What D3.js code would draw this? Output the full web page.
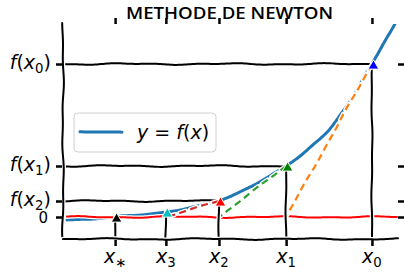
<!DOCTYPE html>
<html><head><meta charset="utf-8">
<script src="https://cdn.jsdelivr.net/npm/d3@7"></script>
<style>
body{margin:0;background:#fff;}
svg{display:block;}
</style></head><body>
<svg id="c" width="404" height="278"></svg>
<script>
// ---------------- data ----------------
const title = "METHODE DE NEWTON";
const curveX = [0.12, 0.81, 1.56, 2.31, 3.08, 3.80, 4.67, 5.60, 6.11, 6.68, 7.40, 7.90, 8.38, 8.80, 9.25, 9.64, 9.95];
const curveY = [-0.25, -0.2, 0.0, 0.2, 0.5, 0.95, 1.6, 3.0, 4.0, 5.1, 6.9, 8.5, 10.6, 12.7, 15.3, 17.6, 19.5];
const iterX = [9.25, 6.68, 4.67, 3.08, 1.56];   // x0, x1, x2, x3, x*
const iterY = [15.3, 5.1, 1.6, 0.5, 0.0];       // f(x0) ... f(x*)
const xTickSubs = ["0", "1", "2", "3", "*"];
const yTickValues = [15.3, 5.1, 1.6, 0.0];
const yTickSubs = ["0", "1", "2", null];
const zeroLineX = [0.12, 10.0];

// ---------------- styles ----------------
const markerColors = ["#0000ff", "#008000", "#ff0000", "#00bfbf", "#000000"];
const tangentColors = ["#ff7f0e", "#2ca02c", "#d62728"];
const C0 = "#1f77b4";

const svg = d3.select("#c");
const L = 63, R = 397, T = 24, B = 239;
const x = d3.scaleLinear().domain([0, 10]).range([L, R]);
const y = d3.scaleLinear().domain([-2.2, 19.3]).range([B, T]);

svg.append("defs").append("clipPath").attr("id", "clip")
  .append("rect").attr("x", L - 2).attr("y", T).attr("width", R - L + 6).attr("height", B - T);

// hand-drawn wobble (style only)
const tmp = svg.append("path").attr("fill", "none").attr("stroke", "none");
function sketch(pts, amp, seed, curve) {
  const gen = d3.line().curve(curve || d3.curveLinear);
  tmp.attr("d", gen(pts));
  const node = tmp.node();
  const len = node.getTotalLength();
  const n = Math.max(2, Math.ceil(len / 2));
  const raw = [];
  for (let i = 0; i <= n; i++) {
    const p = node.getPointAtLength(len * i / n);
    raw.push([p.x, p.y, len * i / n]);
  }
  const out = [];
  for (let i = 0; i <= n; i++) {
    const a = raw[Math.max(0, i - 1)], b = raw[Math.min(n, i + 1)];
    let dx = b[0] - a[0], dy = b[1] - a[1];
    const dl = Math.hypot(dx, dy) || 1;
    const nx = -dy / dl, ny = dx / dl;
    const s = raw[i][2];
    const d = amp * (0.6 * Math.sin(s / 16 + seed) + 0.4 * Math.sin(s / 6.7 + seed * 2.3));
    out.push([raw[i][0] + nx * d, raw[i][1] + ny * d]);
  }
  return d3.line()(out);
}
function drawLine(g, pts, color, width, opts = {}) {
  const d = sketch(pts, opts.amp ?? 0.8, opts.seed ?? 0, opts.curve);
  g.append("path").attr("d", d).attr("fill", "none").attr("stroke", "#fff")
    .attr("stroke-width", width + 2.5).attr("stroke-linecap", "round")
    .attr("stroke-dasharray", opts.dash || null);
  g.append("path").attr("d", d).attr("fill", "none").attr("stroke", color)
    .attr("stroke-width", width).attr("stroke-linecap", opts.dash ? "butt" : "round")
    .attr("stroke-dasharray", opts.dash || null);
}

const plot = svg.append("g").attr("clip-path", "url(#clip)");

// blue curve
drawLine(plot, curveX.map((v, i) => [x(v), y(curveY[i])]), C0, 3, { seed: 1.3, amp: 0.6, curve: d3.curveMonotoneX });
// zero line
drawLine(plot, zeroLineX.map(v => [x(v), y(0)]), "#ff0000", 2, { seed: 4.1, amp: 0.9 });

// iterations
for (let i = 0; i < iterX.length; i++) {
  const px = x(iterX[i]), py = y(iterY[i]);
  drawLine(svg, [[px, B], [px, py]], "#000", 2, { seed: 2 + i, amp: 0.6 });
  if (i < 3) drawLine(svg, [[L, py], [px, py]], "#000", 2, { seed: 7 + i, amp: 0.9 });
  if (i < 3) drawLine(svg, [[px, py], [x(iterX[i + 1]), y(0)]], tangentColors[i], 2.2,
    { seed: 11 + i, amp: 0.6, dash: "7,4.5" });
}
for (let i = 0; i < iterX.length; i++) {
  const px = x(iterX[i]), py = y(iterY[i]);
  svg.append("path").attr("d", d3.symbol(d3.symbolTriangle, 50)())
    .attr("transform", `translate(${px + 1.5},${py + 2})`)
    .attr("fill", markerColors[i]).attr("stroke", "#fff").attr("stroke-width", 1);
}

// spines
drawLine(svg, [[L, T - 1], [L, B]], "#000", 2, { seed: 20, amp: 0.9 });
drawLine(svg, [[L, B], [R + 1, B]], "#000", 2, { seed: 21, amp: 0.9 });

// axes (ticks)
const tickStyle = g => {
  g.select(".domain").remove();
  g.selectAll(".tick line").attr("stroke", "#000").attr("stroke-width", 2.5);
  g.selectAll(".tick text").remove();
};
svg.append("g").attr("transform", `translate(0,${B + 1})`)
  .call(d3.axisBottom(x).tickValues(iterX).tickSize(6).tickFormat("")).call(tickStyle);
svg.append("g").attr("transform", `translate(0,${T})`)
  .call(d3.axisTop(x).tickValues(iterX).tickSize(6).tickFormat("")).call(tickStyle);
svg.append("g").attr("transform", `translate(${L - 1},0)`)
  .call(d3.axisLeft(y).tickValues(yTickValues).tickSize(6).tickFormat("")).call(tickStyle);
svg.append("g").attr("transform", `translate(${R + 1},0)`)
  .call(d3.axisRight(y).tickValues(yTickValues).tickSize(6).tickFormat("")).call(tickStyle);

// math labels
const FS = 19;
function mathText(g, xx, yy, anchor, fs) {
  return g.append("text").attr("x", xx).attr("y", yy).attr("text-anchor", anchor)
    .attr("font-family", "DejaVu Sans").attr("font-size", fs).attr("fill", "#000");
}
// y labels
yTickValues.forEach((v, i) => {
  if (yTickSubs[i] === null) {
    mathText(svg, 48, y(v) + 6, "end", 15).text("0");
    return;
  }
  const t = mathText(svg, 51, y(v) + 5, "end", FS);
  t.append("tspan").attr("font-style", "italic").text("f");
  t.append("tspan").text("(");
  t.append("tspan").attr("font-style", "italic").text("x");
  t.append("tspan").attr("font-size", FS * 0.7).attr("dy", 4).text(yTickSubs[i]);
  t.append("tspan").attr("dy", -4).text(")");
});
// x labels
iterX.forEach((v, i) => {
  const t = mathText(svg, x(v), 263, "middle", FS);
  t.append("tspan").attr("font-style", "italic").text("x");
  t.append("tspan").attr("font-size", FS * 0.7).attr("dy", 4).text(xTickSubs[i] === "*" ? "\u2217" : xTickSubs[i]);
});

// title
svg.append("text").attr("x", 229.5).attr("y", 19).attr("text-anchor", "middle")
  .attr("font-family", "Open Sans").attr("font-weight", 600).attr("font-size", 17).attr("textLength", 207)
  .attr("lengthAdjust", "spacingAndGlyphs").text(title);

// legend
const lg = svg.append("g");
lg.append("rect").attr("x", 74).attr("y", 113).attr("width", 142).attr("height", 39).attr("rx", 4)
  .attr("fill", "#fff").attr("fill-opacity", 0.85).attr("stroke", "#d0d0d0").attr("stroke-width", 1);
drawLine(lg, [[80, 132], [122, 132]], C0, 3, { seed: 30, amp: 0.3 });
const lt = lg.append("text").attr("x", 137).attr("y", 139).attr("font-family", "DejaVu Sans").attr("font-size", FS);
lt.append("tspan").attr("font-style", "italic").text("y");
lt.append("tspan").text(" = ");
lt.append("tspan").attr("font-style", "italic").text("f");
lt.append("tspan").text("(");
lt.append("tspan").attr("font-style", "italic").text("x");
lt.append("tspan").text(")");
tmp.remove();
</script>
</body></html>
